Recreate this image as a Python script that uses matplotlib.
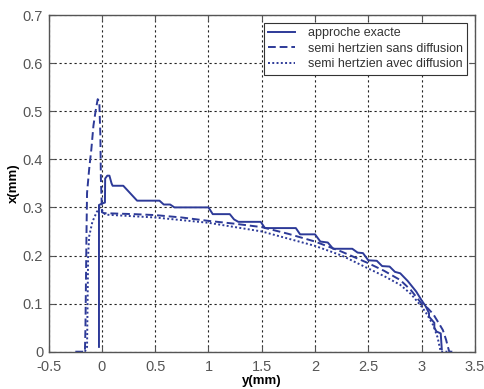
import matplotlib
matplotlib.use("Agg")
import matplotlib.pyplot as plt

# approche exacte
exact_y_mm = [-0.028, -0.028, 0.0, 0.028, 0.03, 0.05, 0.07, 0.09, 0.1, 0.2, 0.33, 0.54, 0.58, 0.64,
              0.68, 1.0, 1.04, 1.2, 1.24, 1.28, 1.49, 1.53, 1.82, 1.86, 2.0, 2.05, 2.12, 2.17,
              2.35, 2.4, 2.45, 2.5, 2.58, 2.63, 2.7, 2.75, 2.8, 2.87, 2.95, 3.0, 3.04, 3.07,
              3.07, 3.12, 3.12, 3.14, 3.18, 3.19]
exact_x_mm = [0.01, 0.305, 0.308, 0.31, 0.36, 0.366, 0.366, 0.35, 0.345, 0.345, 0.314, 0.314, 0.306, 0.306,
              0.3, 0.3, 0.286, 0.286, 0.275, 0.27, 0.27, 0.257, 0.257, 0.244, 0.244, 0.229, 0.227, 0.214,
              0.214, 0.206, 0.205, 0.19, 0.189, 0.178, 0.177, 0.166, 0.163, 0.147, 0.125, 0.107, 0.094, 0.08,
              0.073, 0.06, 0.05, 0.042, 0.038, 0.005]

# semi hertzien sans diffusion
sans_y_mm = [-0.25, -0.16, -0.155, -0.15, -0.145, -0.14, -0.12, -0.1, -0.08, -0.06, -0.04, -0.025,
             -0.015, -0.01, 0.0, 0.02, 0.3, 0.5, 0.75, 1.0, 1.25, 1.5, 1.75, 2.0, 2.25, 2.5, 2.65,
             2.8, 2.9, 3.0, 3.06, 3.11, 3.16, 3.2, 3.23, 3.25, 3.26, 3.31]
sans_x_mm = [0.0, 0.0, 0.05, 0.15, 0.25, 0.33, 0.38, 0.42, 0.47, 0.5, 0.525, 0.52,
             0.45, 0.36, 0.29, 0.288, 0.286, 0.284, 0.279, 0.272, 0.266, 0.259, 0.245, 0.229, 0.208, 0.184, 0.168,
             0.149, 0.128, 0.1, 0.09, 0.078, 0.06, 0.045, 0.025, 0.008, 0.0, 0.0]

# semi hertzien avec diffusion
avec_y_mm = [-0.16, -0.14, -0.135, -0.13, -0.12, -0.09, -0.05, -0.02, 0.0, 0.03, 0.5, 1.0, 1.5,
             2.0, 2.25, 2.5, 2.65, 2.8, 2.9, 3.0, 3.05, 3.11, 3.15, 3.17, 3.18, 3.27]
avec_x_mm = [0.0, 0.01, 0.1, 0.2, 0.24, 0.27, 0.29, 0.3, 0.295, 0.285, 0.279, 0.268, 0.25,
             0.22, 0.2, 0.173, 0.157, 0.139, 0.12, 0.094, 0.078, 0.055, 0.03, 0.01, 0.0, 0.0]

labels = ["approche exacte", "semi hertzien sans diffusion", "semi hertzien avec diffusion"]

blue = "#2d3a98"
plt.rcParams["font.family"] = ["Liberation Sans", "DejaVu Sans"]

fig = plt.figure(figsize=(4.85, 3.89), dpi=100)
ax = fig.add_axes([0.1004, 0.0959, 0.8786, 0.8655])

ax.plot(exact_y_mm, exact_x_mm, color=blue, lw=1.4, label=labels[0])
ax.plot(sans_y_mm, sans_x_mm, color=blue, lw=1.4, ls=(0, (4, 2)), label=labels[1])
ax.plot(avec_y_mm, avec_x_mm, color=blue, lw=1.4, ls=(0, (1, 1.2)), label=labels[2])

ax.set_xlim(-0.5, 3.5)
ax.set_ylim(0, 0.7)
ax.set_xticks([-0.5, 0, 0.5, 1, 1.5, 2, 2.5, 3, 3.5])
ax.set_xticklabels(["-0.5", "0", "0.5", "1", "1.5", "2", "2.5", "3", "3.5"])
ax.set_yticks([0, 0.1, 0.2, 0.3, 0.4, 0.5, 0.6, 0.7])
ax.set_yticklabels(["0", "0.1", "0.2", "0.3", "0.4", "0.5", "0.6", "0.7"])
ax.grid(True, color="#222222", lw=0.8, ls=(0, (2, 2.5)))
ax.tick_params(direction="in", length=4, labelsize=10.5, labelcolor="#555555", color="#555555",
               top=True, right=True, pad=4)
ax.tick_params(axis="x", pad=6)
for s in ax.spines.values():
    s.set_color("#555555")
    s.set_linewidth(1.0)

ax.set_xlabel("y(mm)", fontsize=9.5, fontweight="bold", labelpad=1)
ax.set_ylabel("x(mm)", fontsize=9.5, fontweight="bold", labelpad=2)

leg = ax.legend(loc="upper right", fontsize=9, fancybox=False, framealpha=1,
                edgecolor="#333333", borderpad=0.35, labelspacing=0.3, handlelength=2.2,
                handletextpad=1.0, borderaxespad=0.6)
leg.get_frame().set_linewidth(0.8)
for t in leg.get_texts():
    t.set_color("#333333")

fig.savefig("out.png", dpi=100)
